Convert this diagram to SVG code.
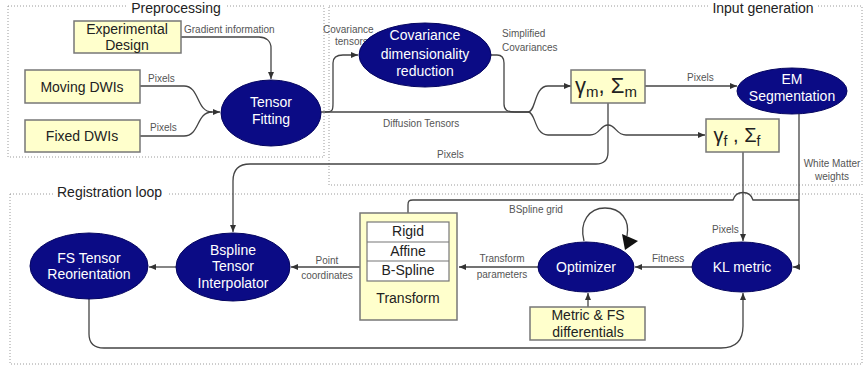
<svg xmlns="http://www.w3.org/2000/svg" width="865" height="371" viewBox="0 0 865 371">
<defs>
<marker id="ah" markerWidth="7" markerHeight="6" refX="7" refY="3" orient="auto" markerUnits="userSpaceOnUse">
<path d="M0,0 L7,3 L0,6 z" fill="#333"/>
</marker>
<style>
text{font-family:"Liberation Sans",Arial,sans-serif}
.grp{fill:none;stroke:#9a9a9a;stroke-width:1;stroke-dasharray:1 2}
.title{font-size:14px;fill:#222}
.box{fill:#ffffcc;stroke:#777;stroke-width:1.5}
.ell{fill:#0b0b85;stroke:#050560;stroke-width:1}
.nt{font-size:14px;fill:#fff;text-anchor:middle}
.bt{font-size:14px;fill:#222;text-anchor:middle}
.lbl{font-size:10px;fill:#555}
.c{fill:none;stroke:#444;stroke-width:1.3}
.ca{fill:none;stroke:#444;stroke-width:1.3;marker-end:url(#ah)}
</style>
</defs>
<rect width="865" height="371" fill="#fff"/>

<g id="groups">
<rect class="grp" x="8" y="6" width="316" height="151"/>
<rect class="grp" x="329" y="6" width="533" height="179"/>
<rect class="grp" x="10" y="194" width="852" height="170"/>
<rect x="127" y="0" width="98" height="15" fill="#fff"/>
<text class="title" x="176" y="13" text-anchor="middle">Preprocessing</text>
<rect x="709" y="0" width="109" height="15" fill="#fff"/>
<text class="title" x="763" y="13" text-anchor="middle">Input generation</text>
<rect x="55" y="186" width="112" height="14" fill="#fff"/>
<text class="title" x="57" y="197">Registration loop</text>
</g>

<g id="connectors">
<path class="ca" d="M181 37 L259 37 C266 37 271 41 271 48 L271 79"/>
<path class="ca" d="M140 86 L184 86 C200 86 196 112 212 112 L220 112"/>
<path class="c" d="M140 136 L184 136 C200 136 196 112 212 112"/>
<path class="c" d="M321 112 L528 112"/>
<path class="ca" d="M325 112 C333 112 333 110 333 103 L333 63 C333 57 337 55 343 55 L358 55"/>
<path class="c" d="M491 55 L497 55 C502 55 504 58 504 63 L504 104 C504 110 507 112 515 112 L528 112"/>
<path class="ca" d="M528 112 C536 112 534 86 548 86 L571 86"/>
<path class="ca" d="M528 112 C536 112 534 135 548 135 L590 135 C600 135 600 125 608 125 C616 125 616 135 626 135 L705 135"/>
<path class="ca" d="M645 86 L737 86"/>
<path class="ca" d="M608 103 L608 152 C608 160 604 164 596 164 L250 164 C239 164 233 170 233 181 L233 232"/>
<path class="ca" d="M743 152 L743 241"/>
<path class="ca" d="M799 114 L799 262 C799 266 798 267 796 267 L793 267"/>
<path class="c" d="M408 213 L408 205 C408 201 409 200 413 200 L733 200 C736 190 750 190 753 200 L799 200"/>
<path class="c" d="M584 241 C579 222 589 208 605 208 C621 208 630 220 627 236"/>
<polygon points="622,234 638,241 625,250" fill="#111"/>
<path class="ca" d="M692 267 L635 267"/>
<path class="ca" d="M538 267 L459 267"/>
<path class="ca" d="M360 267 L291 267"/>
<path class="ca" d="M176 267 L149 267"/>
<path class="ca" d="M588 307 L588 293"/>
<path class="ca" d="M89 299 L89 334 C89 344 94 348 104 348 L721 348 C736 348 743 340 743 326 L743 293"/>
</g>

<g id="labels">
<text class="lbl" x="184" y="33">Gradient information</text>
<text class="lbl" x="148" y="82">Pixels</text>
<text class="lbl" x="150" y="131">Pixels</text>
<text class="lbl" x="323" y="33">Covariance</text>
<text class="lbl" x="335" y="45">tensors</text>
<text class="lbl" x="502" y="37">Simplified</text>
<text class="lbl" x="502" y="51">Covariances</text>
<text class="lbl" x="383" y="127">Diffusion Tensors</text>
<text class="lbl" x="437" y="158">Pixels</text>
<text class="lbl" x="687" y="81">Pixels</text>
<text class="lbl" x="832" y="167" text-anchor="middle">White Matter</text>
<text class="lbl" x="832" y="180" text-anchor="middle">weights</text>
<text class="lbl" x="509" y="213">BSpline grid</text>
<text class="lbl" x="712" y="233">Pixels</text>
<text class="lbl" x="652" y="262">Fitness</text>
<text class="lbl" x="502" y="262" text-anchor="middle">Transform</text>
<text class="lbl" x="502" y="278" text-anchor="middle">parameters</text>
<text class="lbl" x="327" y="264" text-anchor="middle">Point</text>
<text class="lbl" x="327" y="279" text-anchor="middle">coordinates</text>
</g>

<g id="experimental-design">
<rect class="box" x="74" y="21" width="107" height="32"/>
<text class="bt" x="127" y="34">Experimental</text>
<text class="bt" x="127" y="50">Design</text>
</g>
<g id="moving-dwis">
<rect class="box" x="25" y="70" width="115" height="33"/>
<text class="bt" x="82" y="92">Moving DWIs</text>
</g>
<g id="fixed-dwis">
<rect class="box" x="25" y="120" width="115" height="32"/>
<text class="bt" x="82" y="141">Fixed DWIs</text>
</g>
<g id="tensor-fitting">
<ellipse class="ell" cx="271" cy="113" rx="50" ry="33"/>
<text class="nt" x="271" y="107">Tensor</text>
<text class="nt" x="271" y="124">Fitting</text>
</g>
<g id="covariance-reduction">
<ellipse class="ell" cx="425" cy="55" rx="66" ry="32"/>
<text class="nt" x="425" y="40">Covariance</text>
<text class="nt" x="425" y="59">dimensionality</text>
<text class="nt" x="425" y="76">reduction</text>
</g>
<g id="gamma-m">
<rect class="box" x="571" y="70" width="74" height="33"/>
<text x="606" y="93" text-anchor="middle" font-size="22" fill="#222">γ<tspan font-size="15" dy="4">m</tspan><tspan dy="-4">, Σ</tspan><tspan font-size="15" dy="4">m</tspan></text>
</g>
<g id="em-segmentation">
<ellipse class="ell" cx="792" cy="91" rx="55" ry="23"/>
<text class="nt" x="792" y="84">EM</text>
<text class="nt" x="792" y="101">Segmentation</text>
</g>
<g id="gamma-f">
<rect class="box" x="706" y="119" width="73" height="33"/>
<text x="737" y="142" text-anchor="middle" font-size="20" fill="#222">γ<tspan font-size="14" dy="4">f</tspan><tspan dy="-4"> , Σ</tspan><tspan font-size="14" dy="4">f</tspan></text>
</g>
<g id="fs-tensor-reorientation">
<ellipse class="ell" cx="89" cy="266" rx="59" ry="33"/>
<text class="nt" x="89" y="263">FS Tensor</text>
<text class="nt" x="89" y="279">Reorientation</text>
</g>
<g id="bspline-interpolator">
<ellipse class="ell" cx="233" cy="267" rx="57" ry="34"/>
<text class="nt" x="233" y="255">Bspline</text>
<text class="nt" x="233" y="271">Tensor</text>
<text class="nt" x="233" y="288">Interpolator</text>
</g>
<g id="transform">
<rect class="box" x="360" y="213" width="97" height="107"/>
<rect x="367" y="222" width="82" height="59" fill="#fff" stroke="#777" stroke-width="1.2"/>
<line x1="367" y1="242" x2="449" y2="242" stroke="#777" stroke-width="1.2"/>
<line x1="367" y1="261" x2="449" y2="261" stroke="#777" stroke-width="1.2"/>
<text class="bt" x="408" y="236">Rigid</text>
<text class="bt" x="408" y="256">Affine</text>
<text class="bt" x="408" y="275">B-Spline</text>
<text class="bt" x="408" y="303">Transform</text>
</g>
<g id="optimizer">
<ellipse class="ell" cx="586" cy="267" rx="48" ry="25"/>
<text class="nt" x="586" y="272">Optimizer</text>
</g>
<g id="kl-metric">
<ellipse class="ell" cx="742" cy="267" rx="50" ry="25"/>
<text class="nt" x="742" y="272">KL metric</text>
</g>
<g id="metric-differentials">
<rect class="box" x="530" y="307" width="115" height="33"/>
<text class="bt" x="588" y="320">Metric &amp; FS</text>
<text class="bt" x="588" y="337">differentials</text>
</g>
</svg>
